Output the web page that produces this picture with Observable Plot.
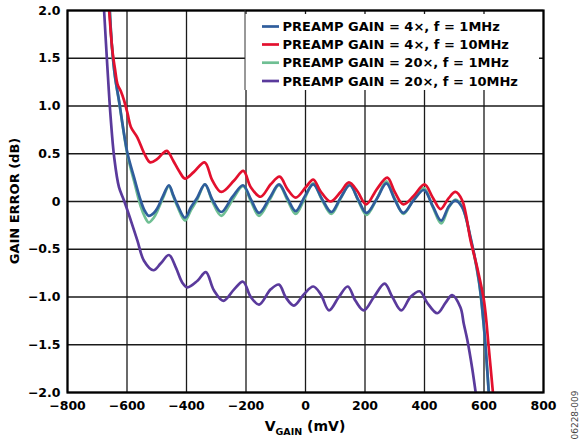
<!DOCTYPE html>
<html>
<head>
<meta charset="utf-8">
<script src="https://cdn.jsdelivr.net/npm/d3@7"></script>
<script src="https://cdn.jsdelivr.net/npm/@observablehq/plot@0.6"></script>
<style>
  html, body { margin: 0; padding: 0; background: #fff; }
  #chart { width: 582px; height: 444px; }
</style>
</head>
<body>
<div id="chart"></div>
<script>
// ---- data ----
const xTicks = [-800, -600, -400, -200, 0, 200, 400, 600, 800];
const yTicks = [-2, -1.5, -1, -0.5, 0, 0.5, 1, 1.5, 2];
const yTickLabels = ["−2.0", "−1.5", "−1.0", "−0.5", "0", "0.5", "1.0", "1.5", "2.0"];
const xTickLabels = ["−800", "−600", "−400", "−200", "0", "200", "400", "600", "800"];

const seriesNames = [
  "PREAMP GAIN = 4×, f = 1MHz",
  "PREAMP GAIN = 4×, f = 10MHz",
  "PREAMP GAIN = 20×, f = 1MHz",
  "PREAMP GAIN = 20×, f = 10MHz"
];
const seriesColors = ["#2f5d9c", "#e3102e", "#6fbf93", "#5a3a9c"];

const gain4x1MHz = [
  [-658, 2.0], [-650, 1.6], [-640, 1.30], [-627, 1.06], [-610, 0.71], [-598, 0.50],
  [-576, 0.25], [-554, 0.01], [-540, -0.10], [-527, -0.15], [-510, -0.12], [-498, -0.07],
  [-480, 0.05], [-459, 0.17], [-445, 0.07], [-431, -0.03], [-405, -0.17], [-385, -0.06],
  [-364, 0.04], [-338, 0.18], [-313, 0.02], [-283, -0.11], [-245, 0.05], [-210, 0.17],
  [-183, 0.02], [-156, -0.12], [-120, 0.04], [-89, 0.18], [-60, 0.03], [-33, -0.10],
  [-3, 0.05], [26, 0.18], [55, 0.03], [87, -0.11], [118, 0.04], [149, 0.17], [177, 0.02],
  [205, -0.12], [240, 0.03], [272, 0.19], [300, 0.02], [329, -0.12], [365, 0.02],
  [398, 0.12], [428, -0.05], [456, -0.20], [482, -0.05], [504, 0.01], [527, -0.06],
  [555, -0.38], [583, -0.83], [600, -1.32], [616, -2.0]
];

const gain4x10MHz = [
  [-660, 2.0], [-649, 1.58], [-640, 1.38], [-632, 1.23], [-620, 1.15], [-610, 1.06],
  [-598, 0.92], [-587, 0.78], [-565, 0.67], [-543, 0.51], [-522, 0.41], [-500, 0.44],
  [-481, 0.50], [-466, 0.53], [-445, 0.43], [-425, 0.32], [-405, 0.24], [-375, 0.31],
  [-339, 0.41], [-313, 0.22], [-283, 0.10], [-240, 0.22], [-209, 0.32], [-184, 0.15],
  [-151, 0.05], [-117, 0.18], [-87, 0.26], [-61, 0.13], [-33, 0.04], [1, 0.15],
  [26, 0.23], [50, 0.11], [84, 0.0], [118, 0.10], [146, 0.20], [174, 0.11], [204, -0.03],
  [240, 0.13], [275, 0.25], [300, 0.10], [329, -0.03], [364, 0.06], [400, 0.18],
  [428, 0.04], [454, -0.08], [480, 0.03], [504, 0.10], [527, 0.01], [555, -0.41],
  [577, -0.69], [600, -1.04], [616, -1.53], [630, -2.0]
];

const gain20x1MHz = [
  [-658, 2.0], [-650, 1.6], [-640, 1.30], [-627, 1.05], [-610, 0.70], [-598, 0.48],
  [-576, 0.21], [-554, -0.05], [-540, -0.16], [-527, -0.22], [-510, -0.17], [-498, -0.10],
  [-480, 0.03], [-459, 0.16], [-445, 0.06], [-431, -0.05], [-405, -0.20], [-385, -0.09],
  [-364, 0.02], [-338, 0.18], [-313, 0.0], [-283, -0.15], [-245, 0.02], [-210, 0.16],
  [-183, 0.0], [-156, -0.15], [-120, 0.02], [-89, 0.17], [-60, 0.01], [-33, -0.13],
  [-3, 0.03], [26, 0.19], [55, 0.02], [87, -0.13], [118, 0.03], [149, 0.18], [177, 0.01],
  [205, -0.14], [240, 0.03], [272, 0.21], [300, 0.03], [329, -0.13], [365, 0.03],
  [398, 0.14], [428, -0.06], [456, -0.23], [482, -0.06], [504, 0.02], [527, -0.06],
  [555, -0.39], [583, -0.84], [600, -1.33], [616, -2.0]
];

const gain20x10MHz = [
  [-677, 2.0], [-666, 1.41], [-655, 0.88], [-643, 0.46], [-627, 0.15], [-610, 0.01],
  [-587, -0.20], [-565, -0.41], [-543, -0.62], [-511, -0.72], [-487, -0.65], [-459, -0.56],
  [-436, -0.69], [-414, -0.85], [-397, -0.90], [-363, -0.83], [-335, -0.74], [-308, -0.93],
  [-276, -1.04], [-240, -0.92], [-210, -0.84], [-184, -1.00], [-156, -1.08], [-117, -0.92],
  [-89, -0.87], [-67, -1.00], [-39, -1.09], [-5, -0.97], [26, -0.89], [51, -0.97],
  [79, -1.14], [112, -1.00], [142, -0.89], [168, -1.04], [196, -1.14], [230, -1.00],
  [266, -0.86], [292, -1.00], [322, -1.14], [353, -1.00], [384, -0.94], [409, -1.06],
  [443, -1.17], [471, -1.06], [493, -0.98], [521, -1.11], [532, -1.28], [544, -1.45],
  [560, -1.74], [572, -2.0]
];

const seriesData = [gain4x1MHz, gain4x10MHz, gain20x1MHz, gain20x10MHz];
const drawOrder = [2, 0, 3, 1];
const xLabelMain = "V", xLabelSub = "GAIN", xLabelUnit = " (mV)";
const yLabel = "GAIN ERROR (dB)";
const figureId = "06228-009";

// ---- chart ----
const lineMarks = drawOrder.map(i =>
  Plot.line(seriesData[i], {
    x: d => d[0], y: d => d[1],
    stroke: seriesColors[i], strokeWidth: 2.7,
    curve: "catmull-rom", clip: true
  })
);

const chart = Plot.plot({
  width: 582, height: 444,
  marginLeft: 67, marginRight: 39, marginTop: 10, marginBottom: 52,
  style: { fontFamily: "'DejaVu Sans', sans-serif", fontWeight: "bold", fontSize: "12.5px", color: "#000", background: "#fff" },
  x: { domain: [-800, 800] },
  y: { domain: [-2, 2] },
  marks: [
    Plot.gridX(xTicks, { stroke: "#1a1a1a", strokeOpacity: 1, strokeWidth: 1.3 }),
    Plot.gridY(yTicks, { stroke: "#1a1a1a", strokeOpacity: 1, strokeWidth: 1.3 }),
    ...lineMarks,
    Plot.frame({ stroke: "#000", strokeWidth: 2.2 }),
    Plot.axisX(xTicks, { tickSize: 0, tickPadding: 9, tickFormat: (d, i) => xTickLabels[i], label: null, fill: "#000" }),
    Plot.axisY(yTicks, { tickSize: 0, tickPadding: 7, tickFormat: (d, i) => yTickLabels[i], label: null, fill: "#000" })
  ]
});
document.getElementById("chart").appendChild(chart);

// ---- annotations: axis titles, legend, figure id ----
const svg = d3.select(chart);
const xs = chart.scale("x"), ys = chart.scale("y");
const cx = (xs.apply(-800) + xs.apply(800)) / 2;
const cy = (ys.apply(-2) + ys.apply(2)) / 2;

const xl = svg.append("text")
  .attr("x", cx).attr("y", 431)
  .attr("text-anchor", "middle")
  .style("font-size", "14px").style("font-weight", "bold").attr("fill", "#000");
xl.append("tspan").text(xLabelMain);
xl.append("tspan").attr("dy", 3.5).style("font-size", "9.5px").text(xLabelSub);
xl.append("tspan").attr("dy", -3.5).text(xLabelUnit);

svg.append("text")
  .attr("transform", `translate(${19},${cy}) rotate(-90)`)
  .attr("text-anchor", "middle")
  .style("font-size", "13px").style("font-weight", "bold").attr("fill", "#000")
  .text(yLabel);

svg.append("text")
  .attr("transform", `translate(${578},${415}) rotate(-90)`)
  .attr("text-anchor", "middle")
  .style("font-size", "9px").style("font-weight", "normal").attr("fill", "#444")
  .text(figureId);

// legend
const lg = svg.append("g").attr("text-anchor", "start");
const lx0 = 245, lx1 = xs.apply(800) - 4, ly0 = 14, ly1 = 90;
lg.append("rect").attr("x", lx0).attr("y", ly0).attr("width", lx1 - lx0).attr("height", ly1 - ly0).attr("fill", "#fff");
lg.append("line").attr("x1", lx0).attr("x2", lx0).attr("y1", ys.apply(2)).attr("y2", ly1).attr("stroke", "#333").attr("stroke-width", 1);
const rowY = [26.5, 44.5, 62.7, 81];
seriesNames.forEach((name, i) => {
  lg.append("line").attr("x1", 262).attr("x2", 279).attr("y1", rowY[i]).attr("y2", rowY[i])
    .attr("stroke", seriesColors[i]).attr("stroke-width", 2.7);
  lg.append("text").attr("x", 282.5).attr("y", rowY[i] + 4.7)
    .attr("text-anchor", "start")
    .style("font-size", "13px").style("font-weight", "bold").attr("fill", "#000").text(name);
});
</script>
</body>
</html>
